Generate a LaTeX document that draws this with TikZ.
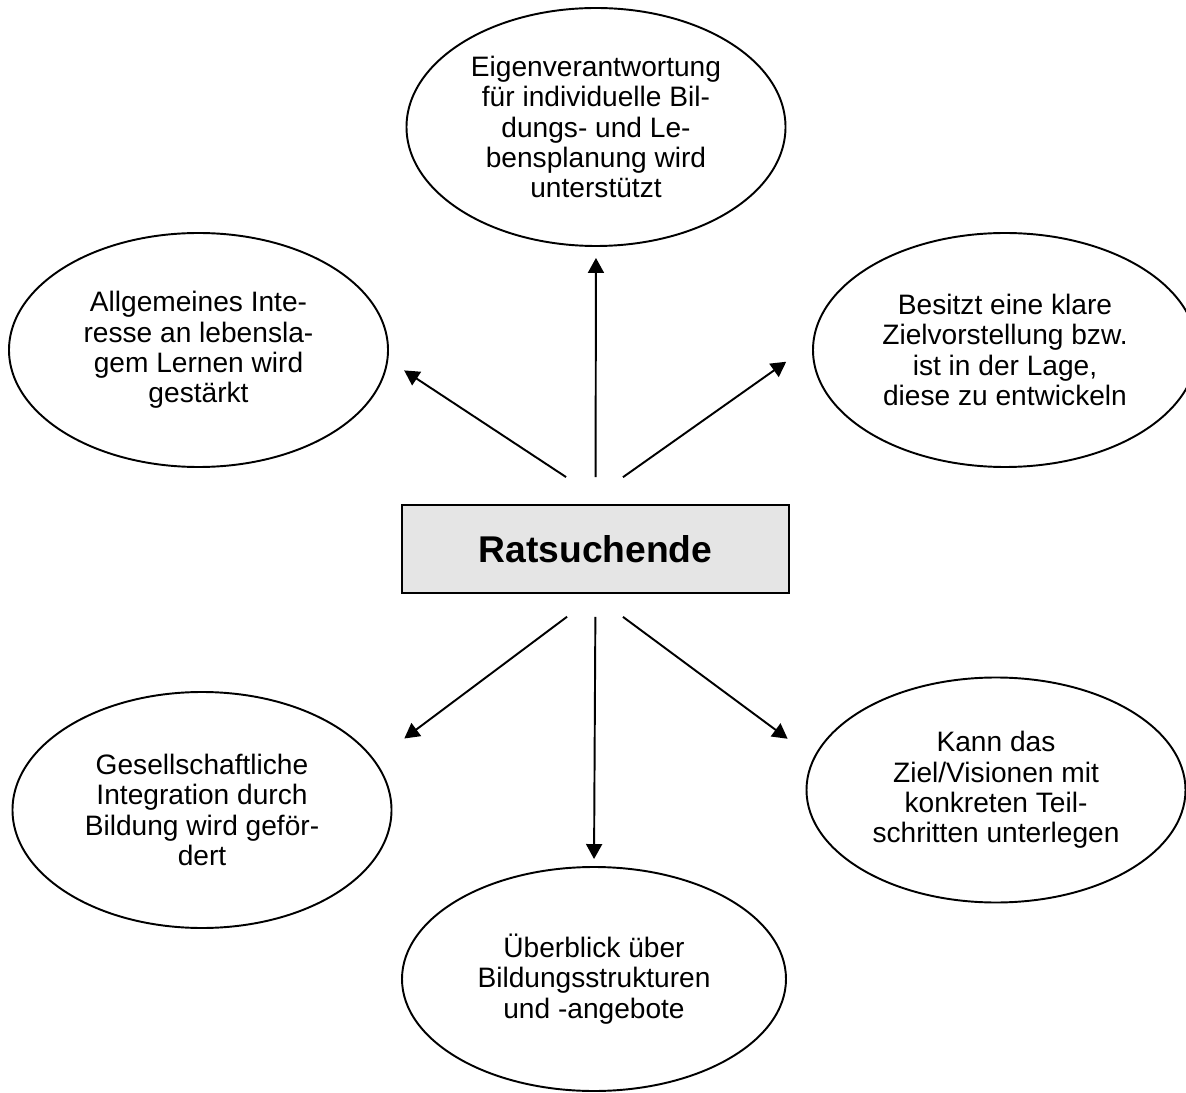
\documentclass[tikz,border=0pt]{standalone}
\usepackage{fontspec}
\setmainfont{Liberation Sans}
\usetikzlibrary{arrows.meta,shapes.geometric}

\begin{document}
\begin{tikzpicture}
[->,>={Triangle[length=0.3cm,width=0.32cm]},line width=1.1pt,
main node/.style={ellipse,draw,align=center,inner sep=0pt,minimum width=7.58cm,minimum height=4.68cm,font={\fontsize{16}{17.2}\selectfont}},
block/.style   ={rectangle,draw,fill=black!10,minimum width=7.74cm,minimum height=1.76cm,font={\fontsize{21.2}{24}\selectfont\bfseries}}]
\useasboundingbox (0,0) rectangle (23.72,-21.86);
    \node[block] (ratsuchende) at (11.91,-10.98) {Ratsuchende};
    \node[main node,minimum height=4.76cm] (eigen) at (11.92,-2.54) {Eigenverantwortung\\für individuelle Bil-\\dungs- und Le-\\bensplanung wird\\unterstützt};
    \node[main node] (interesse) at (3.97,-7.0) {Allgemeines Inte-\\resse an lebensla-\\gem Lernen wird\\gestärkt};
    \node[main node,minimum width=7.68cm] (ziel) at (20.1,-7.0) {Besitzt eine klare\\Zielvorstellung bzw.\\ist in der Lage,\\diese zu entwickeln};
    \node[main node,minimum height=4.72cm] (integration) at (4.04,-16.2) {Gesellschaftliche\\Integration durch\\Bildung wird geför-\\dert};
    \node[main node,minimum height=4.5cm] (teilschritte) at (19.92,-15.8) {Kann das\\Ziel/Visionen mit\\konkreten Teil-\\schritten unterlegen};
    \node[main node,minimum width=7.68cm,minimum height=4.48cm] (ueberblick) at (11.88,-19.58) {Überblick über\\Bildungsstrukturen\\und -angebote};
    % nach oben
    \path [->](ratsuchende.north) edge[shorten <=0.54cm,shorten >=0.22cm] (eigen.south);
    \path [->]([xshift=0.23cm]ratsuchende.north) edge[shorten <=0.98cm,shorten >=0.38cm] (interesse.-3);
    \path [->]([xshift=-0.21cm]ratsuchende.north) edge[shorten <=0.93cm,shorten >=0.64cm] (ziel.178);
    % nach unten
    \path [->]([xshift=0.04cm]ratsuchende.south) edge[shorten <=0.76cm,shorten >=0.73cm] (integration.16);
    \path [->](ratsuchende.south) edge[shorten <=0.46cm,shorten >=0.14cm] (ueberblick.north);
    \path [->]([xshift=-0.07cm]ratsuchende.south) edge[shorten <=0.77cm,shorten >=0.64cm] (teilschritte.170);
\end{tikzpicture}
\end{document}
